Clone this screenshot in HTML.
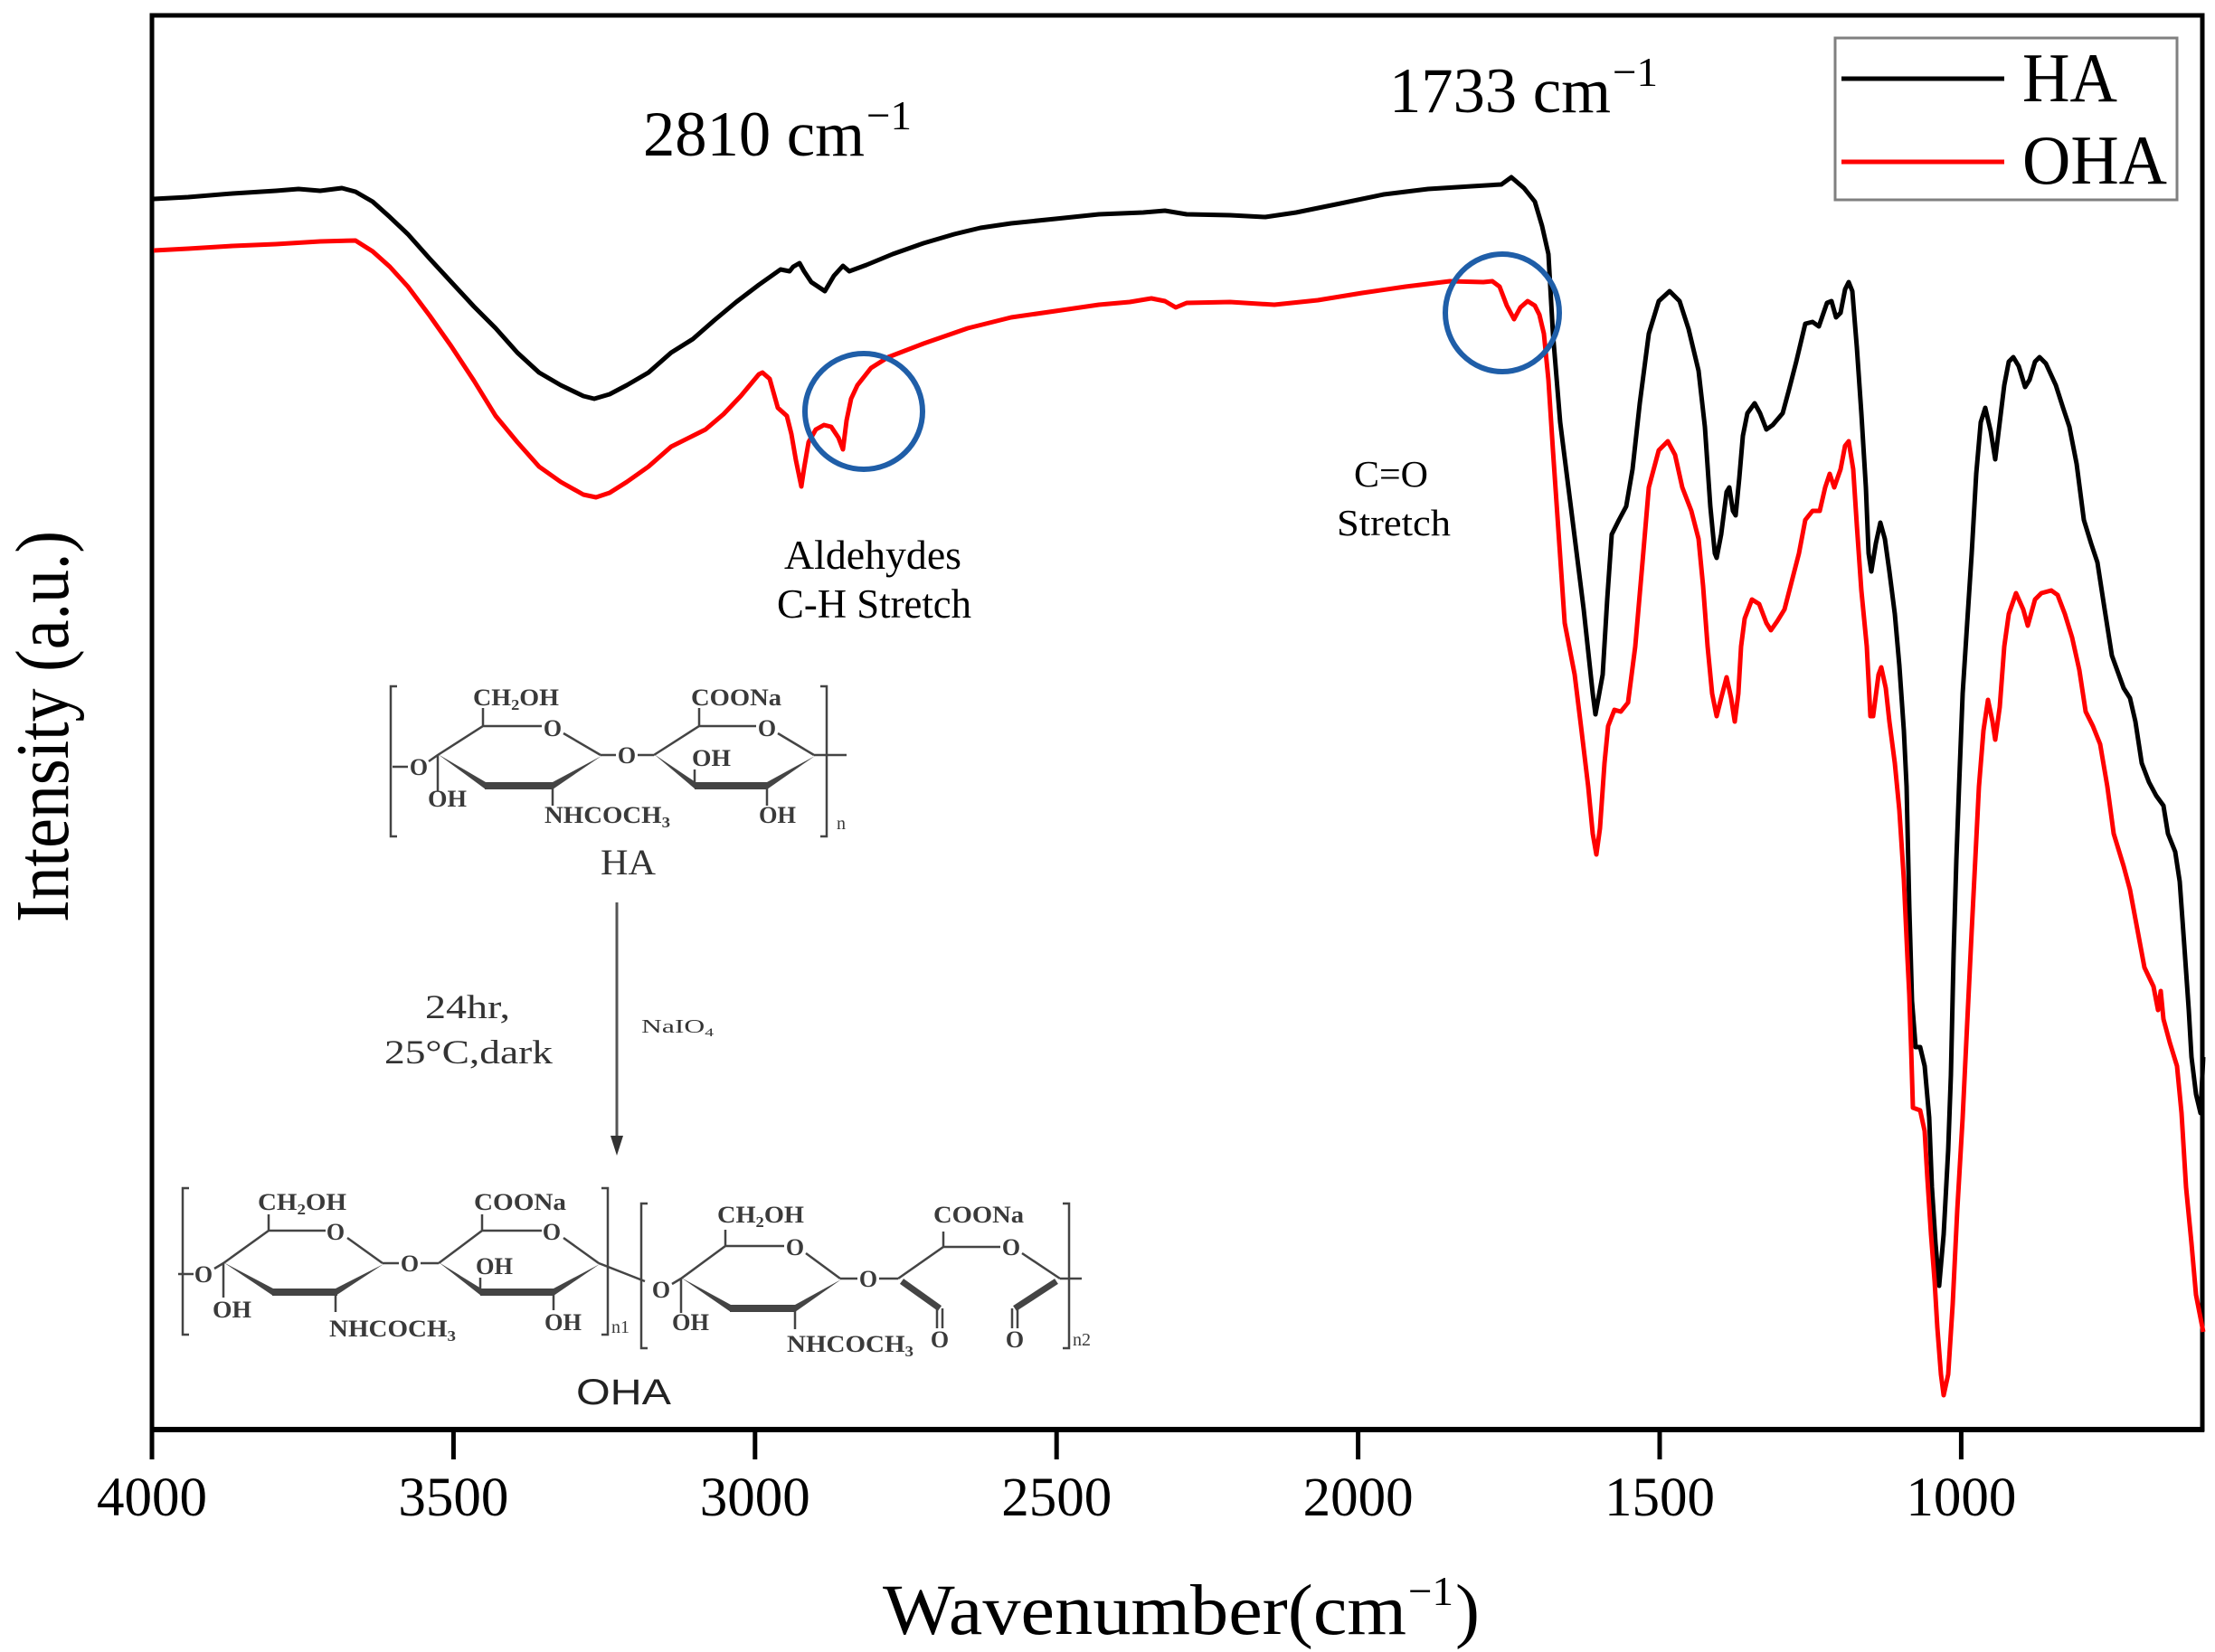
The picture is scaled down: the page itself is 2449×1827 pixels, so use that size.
<!DOCTYPE html>
<html><head><meta charset="utf-8"><style>
html,body{margin:0;padding:0;background:#fff;}
svg{display:block;}
text{font-family:"Liberation Serif",serif;}
</style></head><body>
<svg width="2449" height="1827" viewBox="0 0 2449 1827" xmlns="http://www.w3.org/2000/svg">
<rect x="0" y="0" width="2449" height="1827" fill="#fff"/>

<!-- axes frame -->
<rect x="168" y="17" width="2267" height="1564" fill="none" stroke="#000" stroke-width="5"/>
<line x1="166" y1="1581" x2="2437" y2="1581" stroke="#000" stroke-width="6"/>
<g stroke="#000" stroke-width="5">
<line x1="168" y1="1581" x2="168" y2="1614"/>
<line x1="501.4" y1="1581" x2="501.4" y2="1614"/>
<line x1="834.8" y1="1581" x2="834.8" y2="1614"/>
<line x1="1168.2" y1="1581" x2="1168.2" y2="1614"/>
<line x1="1501.6" y1="1581" x2="1501.6" y2="1614"/>
<line x1="1835" y1="1581" x2="1835" y2="1614"/>
<line x1="2168.4" y1="1581" x2="2168.4" y2="1614"/>
</g>
<g font-size="61" fill="#000" text-anchor="middle">
<text x="168" y="1676">4000</text>
<text x="501.4" y="1676">3500</text>
<text x="834.8" y="1676">3000</text>
<text x="1168.2" y="1676">2500</text>
<text x="1501.6" y="1676">2000</text>
<text x="1835" y="1676">1500</text>
<text x="2168.4" y="1676">1000</text>
</g>

<!-- axis labels -->
<text x="976" y="1807" font-size="79" textLength="579" lengthAdjust="spacingAndGlyphs">Wavenumber(cm</text>
<text x="1557" y="1775" font-size="46" textLength="50" lengthAdjust="spacingAndGlyphs">−1</text>
<text x="1609" y="1807" font-size="79" textLength="27" lengthAdjust="spacingAndGlyphs">)</text>
<text transform="translate(75,1020) rotate(-90)" font-size="84" textLength="433" lengthAdjust="spacingAndGlyphs">Intensity (a.u.)</text>

<!-- curves -->
<polyline fill="none" stroke="#000" stroke-width="5" stroke-linejoin="round" points="170,220 208,218 257,214 305,211 330,209 354,211 378,208 393,212 412,223 431,240 451,259 475,286 499,312 524,339 548,363 572,390 596,412 620,426 645,438 657,441 674,436 693,426 717,412 742,390 766,375 790,354 814,334 839,315 863,298 873,300 877,295 884,291 889,300 897,312 909,320 912,322 922,305 932,294 939,300 958,293 987,281 1021,269 1055,259 1084,252 1118,247 1167,242 1215,237 1264,235 1288,233 1312,237 1360,238 1399,240 1433,235 1482,225 1530,215 1579,209 1627,206 1660,204 1671,196 1685,208 1697,223 1705,250 1712,281 1717,369 1725,467 1738,570 1751,674 1761,767 1764,790 1772,746 1777,663 1782,591 1790,575 1798,560 1805,519 1813,446 1823,369 1834,333 1846,322 1857,333 1867,364 1878,410 1885,472 1891,560 1896,612 1898,617 1903,591 1909,544 1912,539 1916,565 1919,570 1923,529 1927,482 1932,457 1940,446 1946,457 1953,475 1960,470 1971,457 1978,431 1986,400 1996,358 2004,356 2011,361 2020,335 2025,333 2030,351 2035,346 2040,320 2044,312 2048,322 2053,384 2058,457 2063,539 2066,612 2069,632 2074,601 2079,578 2084,596 2089,632 2095,679 2100,736 2105,808 2108,870 2111,1003 2114,1107 2118,1158 2123,1158 2128,1179 2133,1236 2136,1313 2140,1375 2144,1422 2149,1365 2154,1272 2157,1189 2160,1055 2163,952 2166,870 2170,767 2175,689 2180,612 2185,524 2190,467 2195,451 2201,477 2206,508 2211,467 2216,426 2221,400 2226,395 2232,405 2239,428 2244,420 2250,400 2255,395 2262,402 2273,426 2281,451 2288,472 2296,513 2304,575 2312,601 2319,622 2327,674 2335,725 2348,761 2355,772 2361,798 2368,844 2376,865 2384,880 2392,891 2397,922 2405,942 2410,975 2415,1045 2420,1117 2423,1169 2428,1210 2433,1231 2436,1169"/>
<polyline fill="none" stroke="#ff0000" stroke-width="5" stroke-linejoin="round" points="170,277 208,275 257,272 305,270 354,267 393,266 412,278 431,295 451,317 475,349 499,383 524,421 548,460 572,489 596,516 620,533 645,547 659,550 674,545 693,533 717,516 742,494 766,482 780,475 800,458 819,438 839,414 843,412 851,419 860,451 870,460 875,480 880,509 886,538 889,518 894,489 902,475 911,470 919,472 927,484 932,497 936,465 941,441 948,426 963,407 982,395 1021,380 1070,363 1118,351 1167,344 1215,337 1249,334 1273,330 1288,333 1300,340 1312,335 1360,334 1409,337 1457,332 1506,324 1554,317 1603,311 1640,312 1650,311 1658,317 1666,338 1674,353 1681,340 1689,333 1697,338 1702,348 1707,369 1712,420 1717,498 1723,586 1730,689 1741,746 1748,803 1756,870 1761,922 1765,945 1769,916 1774,844 1778,803 1785,785 1792,787 1800,777 1808,715 1816,622 1823,539 1834,498 1844,488 1852,503 1860,539 1870,565 1878,596 1883,648 1888,715 1893,767 1898,792 1903,772 1909,749 1914,772 1918,798 1922,767 1925,715 1929,684 1937,663 1945,668 1953,689 1958,697 1965,687 1973,674 1981,643 1989,612 1996,575 2004,565 2012,565 2018,539 2023,524 2028,539 2035,519 2040,493 2044,488 2049,519 2053,581 2058,653 2064,715 2068,792 2071,792 2077,746 2080,738 2085,761 2089,798 2095,844 2100,896 2105,973 2109,1060 2111,1100 2113,1158 2115,1225 2123,1228 2128,1251 2131,1303 2135,1365 2139,1417 2142,1468 2146,1520 2149,1543 2154,1520 2159,1442 2164,1339 2170,1236 2175,1132 2180,1029 2184,950 2188,870 2193,808 2198,774 2203,798 2206,818 2211,782 2216,715 2221,679 2229,656 2237,674 2242,692 2250,663 2257,656 2268,653 2275,658 2283,679 2291,705 2299,741 2306,787 2314,803 2322,823 2330,870 2337,922 2348,958 2355,984 2363,1027 2371,1070 2381,1091 2386,1117 2389,1096 2392,1127 2399,1153 2407,1179 2412,1231 2417,1313 2423,1375 2428,1432 2436,1473"/>

<!-- blue circles -->
<ellipse cx="955" cy="455" rx="65" ry="64" fill="none" stroke="#1f5ea8" stroke-width="6"/>
<ellipse cx="1661" cy="346" rx="63" ry="65" fill="none" stroke="#1f5ea8" stroke-width="6"/>

<!-- annotations -->
<text x="711" y="172" font-size="71" textLength="245" lengthAdjust="spacingAndGlyphs">2810 cm</text>
<text x="958" y="143" font-size="46" textLength="50" lengthAdjust="spacingAndGlyphs">−1</text>
<text x="1536" y="124" font-size="71" textLength="245" lengthAdjust="spacingAndGlyphs">1733 cm</text>
<text x="1783" y="95" font-size="46" textLength="50" lengthAdjust="spacingAndGlyphs">−1</text>
<text x="867" y="629" font-size="45" textLength="196" lengthAdjust="spacingAndGlyphs">Aldehydes</text>
<text x="859" y="683" font-size="45" textLength="215" lengthAdjust="spacingAndGlyphs">C-H  Stretch</text>
<text x="1497" y="538" font-size="41" textLength="82" lengthAdjust="spacingAndGlyphs">C=O</text>
<text x="1478" y="592" font-size="41" textLength="126" lengthAdjust="spacingAndGlyphs">Stretch</text>

<!-- legend -->
<rect x="2029" y="42" width="378" height="179" fill="#fff" stroke="#808080" stroke-width="3"/>
<line x1="2036" y1="87" x2="2216" y2="87" stroke="#000" stroke-width="5"/>
<line x1="2036" y1="179" x2="2216" y2="179" stroke="#ff0000" stroke-width="5"/>
<text x="2236" y="112" font-size="77" textLength="105" lengthAdjust="spacingAndGlyphs">HA</text>
<text x="2236" y="203" font-size="77" textLength="160" lengthAdjust="spacingAndGlyphs">OHA</text>

<!-- HA structure -->
<g transform="translate(484,835)">
 <g stroke="#444" fill="none" stroke-width="2.5">
  <path d="M0,0 L50,-32 L115,-32 M139,-24 L180,0 M50,-32 L50,-52 M-50,13 L-33,13 M-10,7 L0,0 M0,0 L0,40 M180,0 L197,0 M221,0 L239,0 M239,0 L289,-32 L352,-32 M376,-24 L416,0 M289,-32 L289,-52 M284,34 L284,16 M364,34 L364,56 M127,34 L127,56 M416,0 L452,0"/>
  <path d="M-45,-76 L-52,-76 L-52,90 L-45,90 M423,-76 L430,-76 L430,90 L423,90"/>
  <path d="M52,34 L127,34 M284,34 L364,34" stroke-width="8"/>
 </g>
 <g fill="#444">
  <polygon points="0,-1 53,30 53,38"/>
  <polygon points="127,30 127,38 181,1"/>
  <polygon points="239,-1 285,30 285,38"/>
  <polygon points="364,30 364,38 417,1"/>
 </g>
 <g fill="#3a3a3a" font-weight="bold" font-size="26">
  <text x="39" y="-55" textLength="95" lengthAdjust="spacingAndGlyphs">CH<tspan font-size="17" dy="5">2</tspan><tspan dy="-5">OH</tspan></text>
  <text x="280" y="-55" textLength="100" lengthAdjust="spacingAndGlyphs">COONa</text>
  <text x="127" y="-21" text-anchor="middle">O</text>
  <text x="209" y="9" text-anchor="middle">O</text>
  <text x="364" y="-21" text-anchor="middle">O</text>
  <text x="-21" y="22" text-anchor="middle">O</text>
  <text x="-11" y="57" textLength="43" lengthAdjust="spacingAndGlyphs">OH</text>
  <text x="281" y="12" textLength="43" lengthAdjust="spacingAndGlyphs">OH</text>
  <text x="355" y="75" textLength="41" lengthAdjust="spacingAndGlyphs">OH</text>
  <text x="118" y="75" textLength="139" lengthAdjust="spacingAndGlyphs">NHCOCH<tspan font-size="17" dy="5">3</tspan></text>
  <text x="441" y="82" font-size="20" font-weight="normal">n</text>
 </g>
</g>
<text x="664" y="967" font-size="40" fill="#333" textLength="61" lengthAdjust="spacingAndGlyphs">HA</text>

<!-- reaction arrow -->
<line x1="682" y1="998" x2="682" y2="1262" stroke="#555" stroke-width="3"/>
<polygon points="675,1256 689,1256 682,1278" fill="#333"/>
<text x="470" y="1126" font-size="37" fill="#333" textLength="94" lengthAdjust="spacingAndGlyphs">24hr,</text>
<text x="425" y="1176" font-size="37" fill="#333" textLength="186" lengthAdjust="spacingAndGlyphs">25°C,dark</text>
<text x="709" y="1142" font-size="21" fill="#333" textLength="80" lengthAdjust="spacingAndGlyphs">NaIO<tspan font-size="13" dy="4">4</tspan></text>

<!-- OHA structure unit A -->
<g transform="translate(247,1397)">
 <g stroke="#444" fill="none" stroke-width="2.5">
  <path d="M0,0 L50,-36 L113,-36 M137,-28 L176,0 M50,-36 L50,-54 M-50,12 L-33,12 M-10,6 L0,0 M0,0 L0,38 M176,0 L194,0 M218,0 L238,0 M238,0 L286,-36 L352,-36 M376,-28 L415,0 M286,-36 L286,-54 M284,32 L284,16 M365,32 L365,52 M124,32 L124,54 M415,0 L466,20"/>
  <path d="M-38,-83 L-45,-83 L-45,79 L-38,79 M418,-83 L425,-83 L425,79 L418,79"/>
  <path d="M54,32 L126,32 M284,32 L365,32" stroke-width="8"/>
 </g>
 <g fill="#444">
  <polygon points="0,-1 55,28 55,36"/>
  <polygon points="124,28 124,36 177,1"/>
  <polygon points="238,-1 285,28 285,36"/>
  <polygon points="365,28 365,36 416,1"/>
 </g>
 <g fill="#3a3a3a" font-weight="bold" font-size="26">
  <text x="38" y="-59" textLength="98" lengthAdjust="spacingAndGlyphs">CH<tspan font-size="17" dy="5">2</tspan><tspan dy="-5">OH</tspan></text>
  <text x="277" y="-59" textLength="102" lengthAdjust="spacingAndGlyphs">COONa</text>
  <text x="124" y="-26" text-anchor="middle">O</text>
  <text x="206" y="9" text-anchor="middle">O</text>
  <text x="363" y="-26" text-anchor="middle">O</text>
  <text x="-22" y="21" text-anchor="middle">O</text>
  <text x="-12" y="60" textLength="43" lengthAdjust="spacingAndGlyphs">OH</text>
  <text x="279" y="12" textLength="41" lengthAdjust="spacingAndGlyphs">OH</text>
  <text x="355" y="74" textLength="41" lengthAdjust="spacingAndGlyphs">OH</text>
  <text x="117" y="81" textLength="140" lengthAdjust="spacingAndGlyphs">NHCOCH<tspan font-size="17" dy="5">3</tspan></text>
  <text x="429" y="77" font-size="20" font-weight="normal">n1</text>
 </g>
</g>

<!-- OHA structure unit B -->
<g transform="translate(753,1414)">
 <g stroke="#444" fill="none" stroke-width="2.5">
  <path d="M0,0 L49,-36 L114,-36 M138,-28 L176,0 M49,-36 L49,-54 M-10,6 L0,0 M0,0 L0,38 M176,0 L195,0 M219,0 L240,0 M240,0 L290,-35 L353,-35 M377,-28 L419,0 M290,-35 L290,-52 M126,33 L126,56 M419,0 L443,0"/>
  <path d="M283,33 L283,55 M289,33 L289,55 M366,33 L366,55 M372,33 L372,55"/>
  <path d="M-37,-83 L-44,-83 L-44,77 L-37,77 M422,-83 L429,-83 L429,77 L422,77"/>
  <path d="M54,33 L126,33" stroke-width="8"/>
  <path d="M244,3 L286,33 M415,3 L369,33" stroke-width="7"/>
 </g>
 <g fill="#444">
  <polygon points="0,-1 55,29 55,37"/>
  <polygon points="126,29 126,37 177,1"/>
 </g>
 <g fill="#3a3a3a" font-weight="bold" font-size="26">
  <text x="40" y="-62" textLength="96" lengthAdjust="spacingAndGlyphs">CH<tspan font-size="17" dy="5">2</tspan><tspan dy="-5">OH</tspan></text>
  <text x="279" y="-62" textLength="100" lengthAdjust="spacingAndGlyphs">COONa</text>
  <text x="126" y="-26" text-anchor="middle">O</text>
  <text x="207" y="9" text-anchor="middle">O</text>
  <text x="365" y="-26" text-anchor="middle">O</text>
  <text x="-22" y="21" text-anchor="middle">O</text>
  <text x="-10" y="57" textLength="41" lengthAdjust="spacingAndGlyphs">OH</text>
  <text x="286" y="76" text-anchor="middle">O</text>
  <text x="369" y="76" text-anchor="middle">O</text>
  <text x="117" y="81" textLength="140" lengthAdjust="spacingAndGlyphs">NHCOCH<tspan font-size="17" dy="5">3</tspan></text>
  <text x="433" y="74" font-size="20" font-weight="normal">n2</text>
 </g>
</g>
<text x="637" y="1553" font-family="Liberation Sans, sans-serif" font-size="40" fill="#222" textLength="105" lengthAdjust="spacingAndGlyphs" style="font-family:'Liberation Sans',sans-serif">OHA</text>
</svg>
</body></html>
